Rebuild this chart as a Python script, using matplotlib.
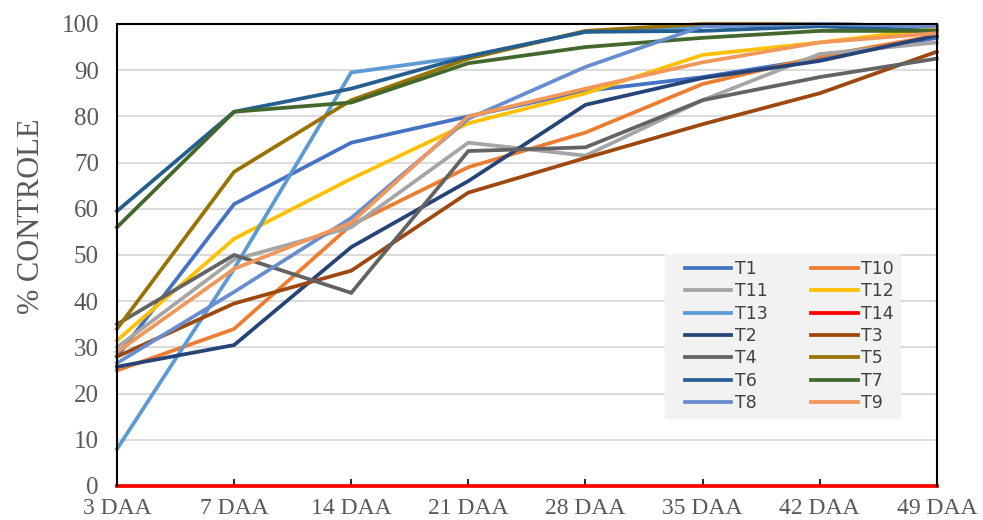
import matplotlib.pyplot as plt
from matplotlib.legend_handler import HandlerLine2D

# dias após aplicação
dias = ["3 DAA", "7 DAA", "14 DAA", "21 DAA", "28 DAA", "35 DAA", "42 DAA", "49 DAA"]

# % controle por tratamento
T1 = [28, 61, 74.3, 80, 85.5, 88.5, 92.5, 97]
T10 = [25, 34, 56.5, 69, 76.5, 87, 93, 97.5]
T11 = [30, 49, 56, 74.3, 71.5, 83.5, 93.5, 96]
T12 = [31.5, 53.5, 66.5, 78.5, 85, 93.3, 96, 99]
T13 = [8, 47, 89.5, 93, 98.3, 99.5, 100, 99.5]
T14 = [0, 0, 0, 0, 0, 0, 0, 0]
T2 = [25.8, 30.5, 51.7, 66, 82.5, 88.3, 92, 97.5]
T3 = [28, 39.5, 46.6, 63.5, 71, 78.3, 85, 94]
T4 = [35, 50, 41.8, 72.5, 73.3, 83.5, 88.5, 92.5]
T5 = [34, 68, 83.5, 92.5, 98.5, 100, 100, 99.5]
T6 = [59.5, 81, 86, 93, 98.3, 98.5, 99.5, 98.5]
T7 = [56, 81, 83, 91.5, 95, 97, 98.5, 98.5]
T8 = [26.6, 42, 58, 79.5, 90.7, 99.5, 100, 99.5]
T9 = [29, 47, 57, 80, 86, 91.7, 96, 98]

series = [
    ("T1", T1, "#4472C4"), ("T10", T10, "#ED7D31"),
    ("T11", T11, "#A5A5A5"), ("T12", T12, "#FFC000"),
    ("T13", T13, "#5B9BD5"), ("T14", T14, "#FF0000"),
    ("T2", T2, "#264478"), ("T3", T3, "#9E480E"),
    ("T4", T4, "#636363"), ("T5", T5, "#997300"),
    ("T6", T6, "#255E91"), ("T7", T7, "#43682B"),
    ("T8", T8, "#698ED0"), ("T9", T9, "#F1975A"),
]

fig = plt.figure(figsize=(9.83, 5.2), dpi=100)
ax = fig.add_axes([0.119, 0.0654, 0.834, 0.8885])

x = list(range(len(dias)))
handles = {}
for nome, vals, cor in series:
    ln, = ax.plot(x, vals, color=cor, lw=2.7, label=nome, clip_on=False,
                  solid_joinstyle="miter")
    handles[nome] = ln

ax.set_xlim(0, 7)
ax.set_ylim(0, 100)
ax.set_yticks(range(0, 101, 10))
ax.set_xticks(x)
ax.set_xticklabels(dias)
ax.grid(axis="y", color="#D9D9D9", lw=1.3)
ax.set_axisbelow(True)

for s in ["left", "top", "right"]:
    ax.spines[s].set_color("black")
    ax.spines[s].set_linewidth(1.5)
ax.spines["bottom"].set_visible(False)

ax.tick_params(axis="x", direction="in", length=5, width=1.2, pad=9,
               labelsize=17, labelcolor="#595959")
ax.tick_params(axis="y", length=0, pad=13, labelsize=18, labelcolor="#595959")
for lab in ax.get_xticklabels() + ax.get_yticklabels():
    lab.set_family("Liberation Serif")

ax.set_ylabel("% CONTROLE", family="Liberation Serif", fontsize=22,
              color="#595959")
ax.yaxis.set_label_coords(-0.087, 0.584)

# legenda em duas colunas, preenchida por linha como no Excel
ordem = ["T1", "T11", "T13", "T2", "T4", "T6", "T8",
         "T10", "T12", "T14", "T3", "T5", "T7", "T9"]
leg = ax.legend([handles[n] for n in ordem], ordem, ncol=2,
                loc="lower left", bbox_to_anchor=(0.668, 0.147, 0.287, 0.36),
                mode="expand", frameon=True, fancybox=False,
                facecolor="#F2F2F2", edgecolor="#F2F2F2", framealpha=1,
                prop={"family": "DejaVu Sans", "size": 12.5},
                handlelength=3.5, handletextpad=0.2, labelspacing=0.25,
                borderpad=0.35, columnspacing=1.0, borderaxespad=0,
                handler_map={plt.Line2D: HandlerLine2D(xpad=0.8)})
for t in leg.get_texts():
    t.set_color("#404040")

fig.savefig("out.png", dpi=100)
